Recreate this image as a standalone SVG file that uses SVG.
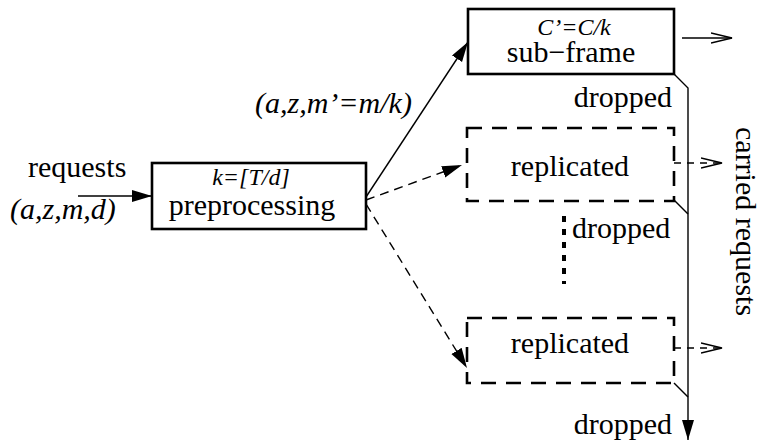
<svg xmlns="http://www.w3.org/2000/svg" width="762" height="443" viewBox="0 0 762 443">
<style>
text{font-family:"Liberation Serif",Tinos,"DejaVu Serif",serif;fill:#000;font-size:30px}
.it{font-style:italic}
.sm{font-size:24px}
.box{fill:#fff;stroke:#000;stroke-width:2.6}
.dbox{fill:none;stroke:#000;stroke-width:2.6;stroke-dasharray:15 10}
.ln{fill:none;stroke:#000;stroke-width:1.4}
.dl{fill:none;stroke:#000;stroke-width:1.4;stroke-dasharray:9 6}
</style>
<defs>
<marker id="fa" markerUnits="userSpaceOnUse" markerWidth="22" markerHeight="14" refX="20" refY="6" orient="auto">
<path d="M0,0 L20,6 L0,12 Z" fill="#000"/>
</marker>
<marker id="oa" markerUnits="userSpaceOnUse" markerWidth="24" markerHeight="14" refX="21" refY="6" orient="auto">
<path d="M0,1 L21,6 L0,11" fill="none" stroke="#000" stroke-width="1.4"/>
</marker>
</defs>
<g id="connectors">
<line class="ln" x1="78" y1="196" x2="152" y2="196" marker-end="url(#fa)"/>
<line class="ln" x1="366" y1="197" x2="468" y2="42" marker-end="url(#fa)"/>
<line class="dl" x1="366" y1="200" x2="462" y2="165" marker-end="url(#fa)"/>
<line class="dl" x1="366" y1="204" x2="467" y2="368" marker-end="url(#fa)"/>
<line class="ln" x1="682" y1="38" x2="732" y2="38" marker-end="url(#oa)"/>
<line class="dl" x1="674" y1="163" x2="722" y2="163" marker-end="url(#oa)" style="stroke-dasharray:7 6"/>
<line class="dl" x1="674" y1="348" x2="722" y2="348" marker-end="url(#oa)" style="stroke-dasharray:7 6"/>
<path class="ln" d="M674,74 L688,88 L688,440" marker-end="url(#fa)"/>
<line class="ln" x1="674" y1="200" x2="688" y2="214"/>
<line class="ln" x1="674" y1="383" x2="688" y2="397"/>
<line x1="564" y1="216" x2="564" y2="284" stroke="#000" stroke-width="4" stroke-dasharray="6 7"/>
</g>
<g id="preprocessing">
<rect class="box" x="152" y="163" width="214" height="66"/>
<text class="it sm" x="251" y="185" text-anchor="middle">k=[T/d]</text>
<text x="252" y="215" text-anchor="middle">preprocessing</text>
</g>
<g id="subframe">
<rect class="box" x="468" y="9" width="206" height="65"/>
<text class="it sm" x="574" y="35" text-anchor="middle">C’=C/k</text>
<text x="571" y="62" text-anchor="middle">sub−frame</text>
</g>
<g id="replicated1">
<rect class="dbox" x="467" y="128" width="207" height="73"/>
<text x="570" y="176" text-anchor="middle">replicated</text>
</g>
<g id="replicated2">
<rect class="dbox" x="467" y="318" width="207" height="65"/>
<text x="570" y="353" text-anchor="middle">replicated</text>
</g>
<g id="labels">
<text x="28" y="177">requests</text>
<text class="it" x="10" y="219">(a,z,m,d)</text>
<text class="it" x="255" y="113">(a,z,m’=m/k)</text>
<text x="672" y="107" text-anchor="end">dropped</text>
<text x="572" y="238">dropped</text>
<text x="672" y="434" text-anchor="end">dropped</text>
<text transform="translate(736,127) rotate(90)">carried requests</text>
</g>
</svg>
